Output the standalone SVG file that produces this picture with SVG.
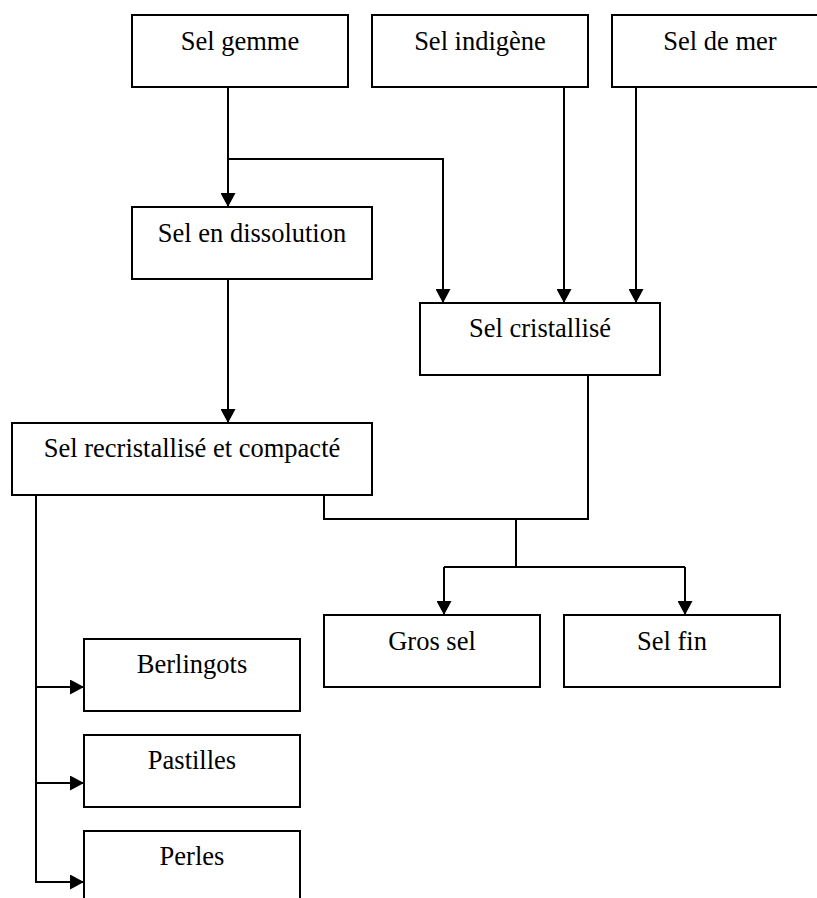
<svg xmlns="http://www.w3.org/2000/svg" width="817" height="898" viewBox="0 0 817 898">
<style>
.box{fill:#fff;stroke:#000;stroke-width:2}
.lbl{font-family:"Liberation Serif","Times New Roman",serif;font-size:26.5px;fill:#000;text-anchor:middle}
.con{fill:none;stroke:#000;stroke-width:2}
</style>
<defs>
<marker id="ah" viewBox="0 0 14 15" refX="14" refY="7.5" markerWidth="14" markerHeight="15" markerUnits="userSpaceOnUse" orient="auto">
<path d="M0,0 L14,7.5 L0,15 z" fill="#000"/>
</marker>
</defs>
<rect width="817" height="898" fill="#fff"/>
<g id="connectors">
<path class="con" d="M228,87 V207" marker-end="url(#ah)"/>
<path class="con" d="M228,159 H443 V303" marker-end="url(#ah)"/>
<path class="con" d="M564,87 V303" marker-end="url(#ah)"/>
<path class="con" d="M636,87 V303" marker-end="url(#ah)"/>
<path class="con" d="M228,279 V423" marker-end="url(#ah)"/>
<path class="con" d="M324,495 V519 H588 V375"/>
<path class="con" d="M516,519 V567"/>
<path class="con" d="M444,567 H685"/>
<path class="con" d="M444,567 V615" marker-end="url(#ah)"/>
<path class="con" d="M685,567 V615" marker-end="url(#ah)"/>
<path class="con" d="M36,495 V883"/>
<path class="con" d="M36,687 H84" marker-end="url(#ah)"/>
<path class="con" d="M36,783 H84" marker-end="url(#ah)"/>
<path class="con" d="M36,882 H84" marker-end="url(#ah)"/>
</g>
<g id="sel-gemme"><rect class="box" x="132" y="15" width="216" height="72"/><text class="lbl" x="240" y="50">Sel gemme</text></g>
<g id="sel-indigene"><rect class="box" x="372" y="15" width="216" height="72"/><text class="lbl" x="480" y="50">Sel indigène</text></g>
<g id="sel-de-mer"><rect class="box" x="612" y="15" width="216" height="72"/><text class="lbl" x="720" y="50">Sel de mer</text></g>
<g id="sel-en-dissolution"><rect class="box" x="132" y="207" width="240" height="72"/><text class="lbl" x="252" y="242">Sel en dissolution</text></g>
<g id="sel-cristallise"><rect class="box" x="420" y="303" width="240" height="72"/><text class="lbl" x="540" y="337">Sel cristallisé</text></g>
<g id="sel-recristallise"><rect class="box" x="12" y="423" width="360" height="72"/><text class="lbl" x="192" y="457">Sel recristallisé et compacté</text></g>
<g id="gros-sel"><rect class="box" x="324" y="615" width="216" height="72"/><text class="lbl" x="432" y="650">Gros sel</text></g>
<g id="sel-fin"><rect class="box" x="564" y="615" width="216" height="72"/><text class="lbl" x="672" y="650">Sel fin</text></g>
<g id="berlingots"><rect class="box" x="84" y="639" width="216" height="72"/><text class="lbl" x="192" y="673">Berlingots</text></g>
<g id="pastilles"><rect class="box" x="84" y="735" width="216" height="72"/><text class="lbl" x="192" y="769">Pastilles</text></g>
<g id="perles"><rect class="box" x="84" y="831" width="216" height="72"/><text class="lbl" x="192" y="865">Perles</text></g>
</svg>
